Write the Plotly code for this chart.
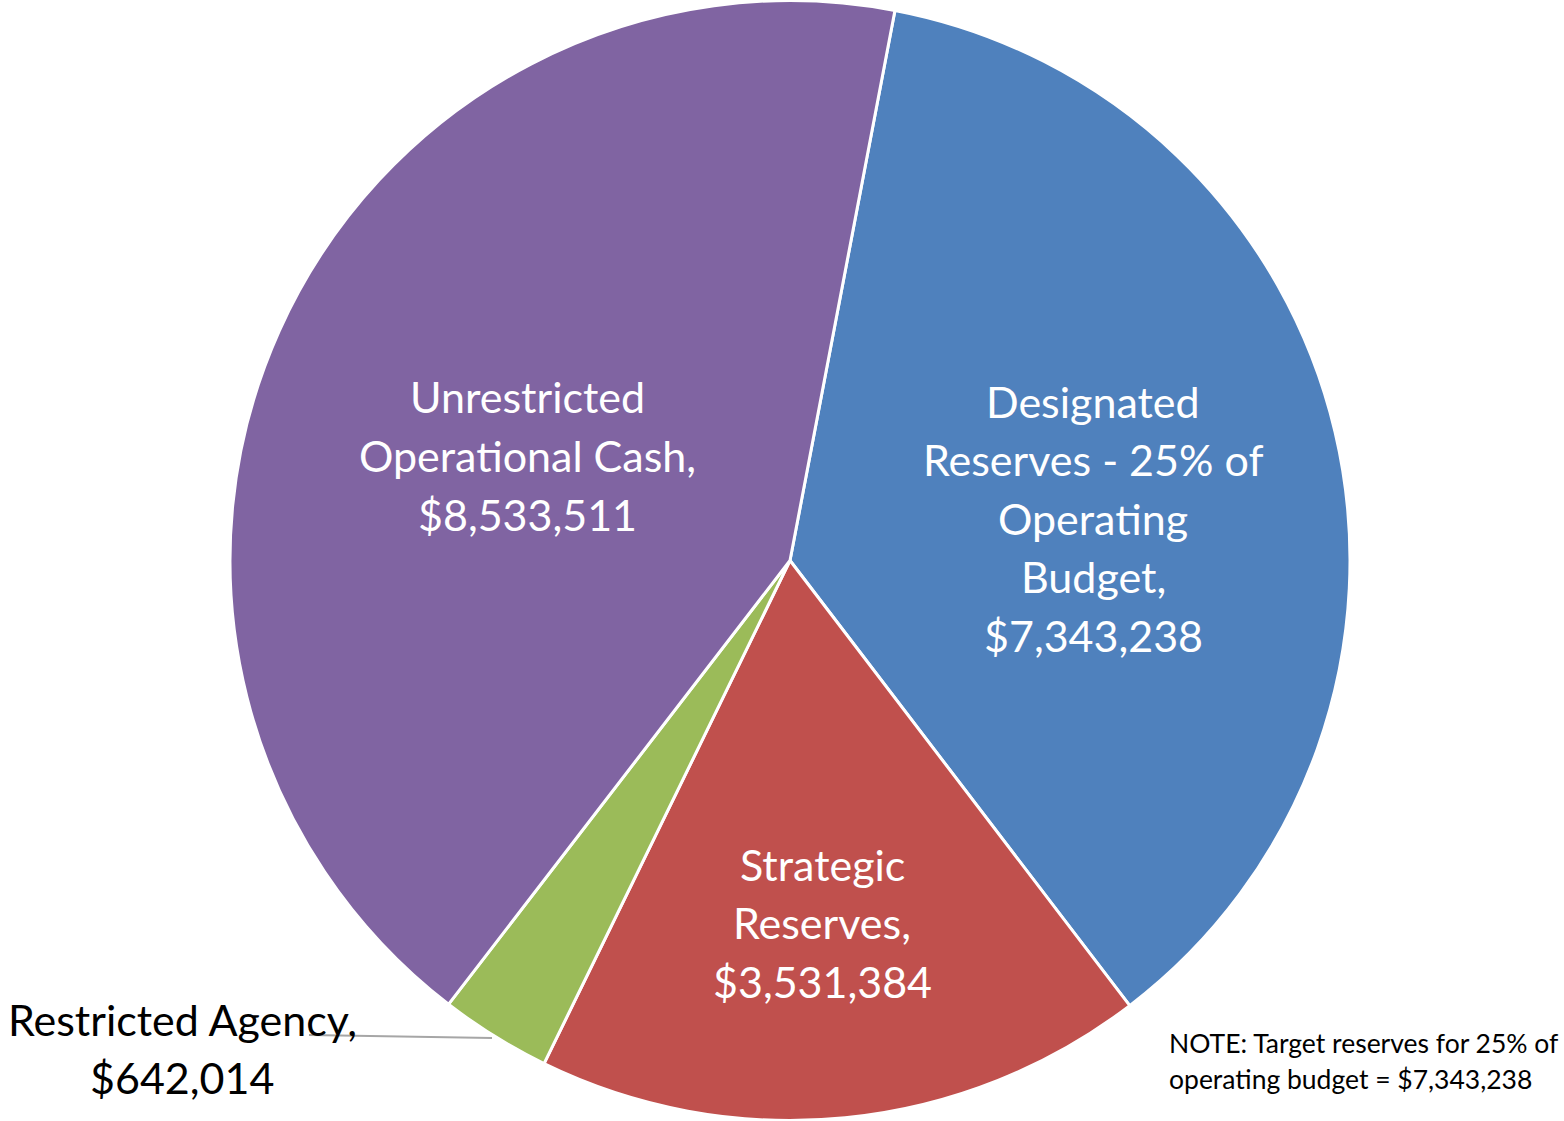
import plotly.graph_objects as go

W, H = 1564, 1121

# Cash reserve breakdown
categories = [
    "Designated<br>Reserves - 25% of<br>Operating<br>Budget",
    "Strategic<br>Reserves",
    "Restricted Agency",
    "Unrestricted<br>Operational Cash",
]
values = [7343238, 3531384, 642014, 8533511]
colors = ["#4F81BD", "#C0504D", "#9BBB59", "#8064A2"]
note_lines = ["NOTE: Target reserves for 25% of", "operating budget = $7,343,238"]

FONT = "Lato"

fig = go.Figure(
    go.Pie(
        values=values,
        labels=[c.replace("<br>", " ") for c in categories],
        marker=dict(colors=colors, line=dict(color="white", width=3)),
        sort=False,
        direction="clockwise",
        rotation=10.8,
        textinfo="none",
        hoverinfo="label+value",
        domain=dict(x=[230 / W, 1350 / W], y=[0, 1]),
        showlegend=False,
    )
)


def label_lines(i):
    lines = categories[i].split("<br>")
    lines[-1] = lines[-1] + ","
    return lines + [f"${values[i]:,}"]


# (center x, first-line y, colour) for each slice label, in pixels
label_pos = [
    (1093, 401, "white"),
    (822, 864, "white"),
    (182, 1019, "black"),
    (527, 397, "white"),
]
annotations = []
for i, (cx, y0, col) in enumerate(label_pos):
    lines = label_lines(i)
    for k, line in enumerate(lines):
        annotations.append(
            dict(
                x=cx / W, y=1 - (y0 + 58.5 * k) / H,
                xref="paper", yref="paper",
                text=line, showarrow=False,
                xanchor="center", yanchor="middle",
                font=dict(family=FONT, size=43, color=col),
            )
        )

for k, line in enumerate(note_lines):
    annotations.append(
        dict(
            x=1167 / W, y=1 - (1043 + 36 * k) / H,
            xref="paper", yref="paper",
            text=line, showarrow=False,
            xanchor="left", yanchor="middle",
            font=dict(family=FONT, size=26.5, color="black"),
        )
    )

fig.update_layout(
    width=W, height=H,
    margin=dict(l=0, r=0, t=0, b=0),
    paper_bgcolor="white",
    plot_bgcolor="white",
    annotations=annotations,
    shapes=[
        dict(
            type="line", xref="paper", yref="paper",
            x0=309 / W, y0=1 - 1035 / H, x1=492 / W, y1=1 - 1038 / H,
            line=dict(color="#A6A6A6", width=2),
        )
    ],
)

fig.write_html("out.html")
